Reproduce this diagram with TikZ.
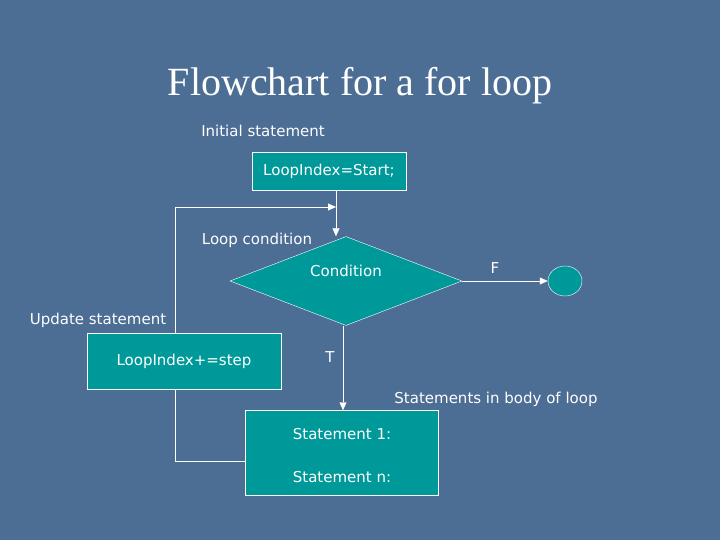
\documentclass[tikz,border=0pt]{standalone}
\usepackage{fontspec}
\setmainfont{DejaVu Sans}
\newfontfamily\titlefont{Liberation Serif}
\usetikzlibrary{shapes.geometric, arrows.meta}
\definecolor{slate}{HTML}{4C6D94}
\definecolor{tealbox}{HTML}{009999}
\tikzset{
  box/.style={draw=white, fill=tealbox, text=white, font=\fontsize{15}{17}\selectfont, inner sep=0pt},
  lbl/.style={text=white, font=\fontsize{15}{17}\selectfont},
  flow/.style={draw=white, thin, -{Triangle[length=8pt,width=7pt]}},
  link/.style={draw=white, thin}
}
\begin{document}
\begin{tikzpicture}[x=1pt, y=-1pt]
      % Background
      \fill[slate] (0,0) rectangle (720,540);
      \useasboundingbox (0,0) rectangle (720,540);

      % Title
      \node[text=white, font=\titlefont\fontsize{40}{44}\selectfont] (title) at (360,86) {Flowchart for a for loop};

      % Labels
      \node[lbl] (initlbl) at (263,131) {Initial statement};
      \node[lbl] (condlbl) at (257,240) {Loop condition};
      \node[lbl] (updlbl) at (98,320) {Update statement};
      \node[lbl] (bodylbl) at (496,399) {Statements in body of loop};
      \node[lbl] (flbl) at (495,268) {F};
      \node[lbl] (tlbl) at (330,357) {T};

      % Shapes
      \node[box, minimum width=154pt, minimum height=38pt] (start) at (329,171) {LoopIndex=Start;};
      \node[box, diamond, aspect=2.6, minimum width=232pt, minimum height=89pt] (cond) at (346,281) {};
      \node[lbl] (condtxt) at (346,271) {Condition};
      \node[box, minimum width=194pt, minimum height=56pt] (update) at (184,361) {LoopIndex+=step};
      \node[box, minimum width=193pt, minimum height=85pt] (body) at (342,453) {};
      \node[lbl] (s1) at (342,434) {Statement 1:};
      \node[lbl] (sn) at (342,477) {Statement n:};
      \node[box, ellipse, minimum width=34pt, minimum height=30pt] (stop) at (565,281) {};

      % Connectors
      \coordinate (loopjoin) at (336,207);
      \coordinate (looptop) at (175,207);
      \coordinate (loopbot) at (175,461);
      \draw[flow] (start.south -| loopjoin) -- (cond.north -| loopjoin);
      \draw[flow] (update.north -| looptop) -- (looptop) -- (loopjoin);
      \draw[link] (update.south -| loopbot) -- (loopbot) -- (loopbot -| body.west);
      \draw[flow] (cond.east) -- (cond.east -| stop.west);
      \draw[flow] (343,326) -- (body.north -| 343,0);
\end{tikzpicture}
\end{document}
